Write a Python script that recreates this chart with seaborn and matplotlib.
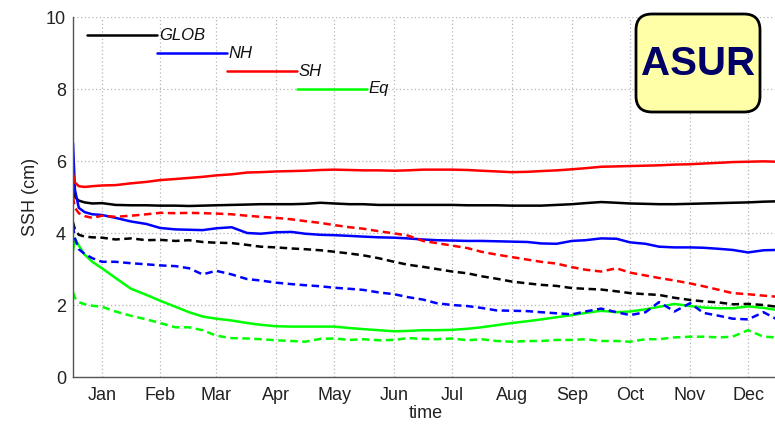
import matplotlib
matplotlib.use("Agg")
import matplotlib.pyplot as plt
from matplotlib.patches import FancyBboxPatch
from matplotlib.transforms import IdentityTransform
import seaborn as sns

# Day of year for each sample
DAYS = [0, 1, 3, 6, 10, 15, 22, 30, 38, 45, 53, 60, 67, 74, 82, 90, 97, 105, 113, 120,
        128, 135, 143, 150, 158, 166, 173, 181, 188, 196, 204, 211, 219, 227, 235, 242,
        250, 258, 265, 273, 281, 288, 296, 303, 311, 319, 326, 334, 341, 349, 357, 364]

# Solid curves (cm)
GLOB_SOLID = [5.25, 5.0, 4.9, 4.85, 4.82, 4.83, 4.78, 4.77, 4.77, 4.76, 4.76, 4.75, 4.76, 4.77,
              4.78, 4.79, 4.8, 4.8, 4.8, 4.81, 4.84, 4.82, 4.8, 4.8, 4.78, 4.78, 4.78, 4.78,
              4.78, 4.78, 4.77, 4.77, 4.77, 4.76, 4.76, 4.76, 4.78, 4.8, 4.83, 4.86, 4.84,
              4.82, 4.81, 4.8, 4.8, 4.81, 4.82, 4.83, 4.84, 4.85, 4.87, 4.88]
NH_SOLID = [6.5, 5.2, 4.7, 4.58, 4.52, 4.5, 4.42, 4.32, 4.25, 4.14, 4.1, 4.09, 4.08, 4.13,
            4.16, 4.0, 3.98, 4.02, 4.03, 3.98, 3.95, 3.94, 3.92, 3.9, 3.88, 3.87, 3.85, 3.82,
            3.8, 3.79, 3.78, 3.78, 3.77, 3.76, 3.75, 3.71, 3.7, 3.78, 3.8, 3.85, 3.84, 3.74,
            3.7, 3.62, 3.6, 3.6, 3.59, 3.56, 3.53, 3.46, 3.52, 3.53]
SH_SOLID = [5.65, 5.4, 5.3, 5.28, 5.3, 5.32, 5.33, 5.38, 5.42, 5.47, 5.5, 5.53, 5.56, 5.6,
            5.63, 5.68, 5.69, 5.71, 5.72, 5.73, 5.75, 5.76, 5.75, 5.74, 5.74, 5.73, 5.74,
            5.76, 5.76, 5.76, 5.75, 5.73, 5.71, 5.69, 5.7, 5.72, 5.74, 5.77, 5.8, 5.84, 5.85,
            5.86, 5.87, 5.88, 5.9, 5.91, 5.93, 5.95, 5.97, 5.98, 5.99, 5.98]
EQ_SOLID = [3.5, 3.85, 3.65, 3.4, 3.2, 3.02, 2.75, 2.45, 2.28, 2.12, 1.95, 1.8, 1.68, 1.62,
            1.57, 1.5, 1.45, 1.41, 1.4, 1.4, 1.4, 1.4, 1.36, 1.33, 1.3, 1.27, 1.28, 1.3, 1.3,
            1.31, 1.34, 1.38, 1.44, 1.5, 1.55, 1.6, 1.66, 1.72, 1.78, 1.84, 1.8, 1.82, 1.88,
            1.95, 2.03, 1.97, 1.93, 1.91, 1.91, 1.96, 1.92, 1.86]

# Dashed curves (cm)
GLOB_DASHED = [4.3, 4.1, 3.95, 3.9, 3.88, 3.87, 3.82, 3.85, 3.8, 3.81, 3.78, 3.8, 3.75, 3.73,
               3.72, 3.67, 3.62, 3.6, 3.57, 3.55, 3.52, 3.48, 3.43, 3.38, 3.3, 3.2, 3.12, 3.06,
               3.0, 2.93, 2.88, 2.8, 2.73, 2.65, 2.6, 2.56, 2.53, 2.47, 2.45, 2.43, 2.38, 2.33,
               2.3, 2.28, 2.2, 2.14, 2.1, 2.07, 2.02, 2.03, 2.0, 1.95]
NH_DASHED = [4.2, 3.85, 3.55, 3.42, 3.3, 3.2, 3.2, 3.16, 3.13, 3.1, 3.08, 3.02, 2.85, 2.95,
             2.85, 2.72, 2.68, 2.62, 2.58, 2.55, 2.52, 2.48, 2.45, 2.42, 2.35, 2.3, 2.22,
             2.15, 2.05, 2.0, 1.97, 1.92, 1.85, 1.84, 1.83, 1.8, 1.77, 1.74, 1.82, 1.9, 1.8,
             1.72, 1.8, 2.08, 1.82, 2.05, 1.78, 1.7, 1.62, 1.6, 1.8, 1.6]
SH_DASHED = [5.0, 4.7, 4.55, 4.47, 4.42, 4.48, 4.45, 4.48, 4.52, 4.56, 4.55, 4.56, 4.55, 4.54,
             4.52, 4.48, 4.45, 4.42, 4.38, 4.33, 4.28, 4.22, 4.16, 4.12, 4.05, 3.99, 3.93,
             3.78, 3.72, 3.65, 3.58, 3.48, 3.4, 3.33, 3.26, 3.2, 3.15, 3.05, 2.98, 2.93, 3.02,
             2.9, 2.82, 2.75, 2.68, 2.6, 2.52, 2.42, 2.33, 2.3, 2.26, 2.23]
EQ_DASHED = [2.35, 2.2, 2.08, 2.02, 1.98, 1.95, 1.82, 1.7, 1.6, 1.5, 1.38, 1.38, 1.3, 1.15,
             1.08, 1.07, 1.05, 1.02, 1.0, 0.98, 1.06, 1.07, 1.03, 1.05, 1.02, 1.03, 1.08, 1.06,
             1.05, 1.07, 1.02, 1.05, 1.0, 0.98, 1.0, 1.0, 1.03, 1.03, 1.05, 1.0, 1.0, 0.98,
             1.05, 1.05, 1.1, 1.12, 1.12, 1.1, 1.12, 1.3, 1.12, 1.1]

REGIONS = ["GLOB", "NH", "SH", "Eq"]
COLORS = {"GLOB": "#000000", "NH": "#0000FF", "SH": "#FF0000", "Eq": "#00FF00"}

MONTH_TICKS = [15, 45, 74, 105, 135, 166, 196, 227, 258, 288, 319, 349]
MONTH_LABELS = ["Jan", "Feb", "Mar", "Apr", "May", "Jun", "Jul", "Aug", "Sep", "Oct", "Nov", "Dec"]
Y_TICKS = [0, 2, 4, 6, 8, 10]

# Staggered key segments: (start day, end day, level) for each region
KEY_SEGMENTS = {"GLOB": (7.3, 43.5, 9.5), "NH": (43.5, 79.8, 9.0),
                "SH": (79.8, 116.0, 8.5), "Eq": (116.0, 152.0, 8.0)}

LW = 1.8

sns.set_theme(style="white")
plt.rcParams["font.family"] = ["Liberation Sans", "DejaVu Sans"]

fig = plt.figure(figsize=(7.75, 4.25), dpi=100)
ax = fig.add_axes([73 / 775, 1 - 377 / 425, 706 / 775, 360 / 425])

solid = {"GLOB": GLOB_SOLID, "NH": NH_SOLID, "SH": SH_SOLID, "Eq": EQ_SOLID}
dashed = {"GLOB": GLOB_DASHED, "NH": NH_DASHED, "SH": SH_DASHED, "Eq": EQ_DASHED}

for name in REGIONS:
    sns.lineplot(x=DAYS, y=solid[name], color=COLORS[name], lw=LW, ax=ax, legend=False)
for name in REGIONS:
    sns.lineplot(x=DAYS, y=dashed[name], color=COLORS[name], lw=LW, ax=ax, legend=False)
    ax.lines[-1].set_dashes([3.0, 1.8])

# Key segments with labels at their right end
for name in REGIONS:
    x0, x1, lvl = KEY_SEGMENTS[name]
    ax.plot([x0, x1], [lvl, lvl], color=COLORS[name], lw=LW)
    ax.text(x1 + 0.8, lvl, name, fontsize=12, fontstyle="italic", color="#111111",
            ha="left", va="center")

ax.set_xlim(0, 365)
ax.set_ylim(0, 10)
ax.set_xticks(MONTH_TICKS)
ax.set_xticklabels(MONTH_LABELS)
ax.set_yticks(Y_TICKS)
ax.grid(True, linestyle=(0, (1, 2)), color="#b5b5b5", lw=0.9)
ax.tick_params(direction="in", length=5, width=0.8, color="#444444",
               labelsize=13, labelcolor="#222222")
ax.tick_params(axis="x", pad=7)
ax.tick_params(axis="y", pad=5)
for side in ("top", "right"):
    ax.spines[side].set_visible(False)
for side in ("left", "bottom"):
    ax.spines[side].set_color("#555555")
    ax.spines[side].set_linewidth(1.0)
ax.set_xlabel("time", fontsize=13, color="#222222", labelpad=1)
ax.set_ylabel("SSH (cm)", fontsize=13, color="#222222", labelpad=5)

# Model name badge in the upper right corner
badge = FancyBboxPatch((636, 425 - 112), 124, 98,
                       boxstyle="round,pad=0,rounding_size=16",
                       transform=IdentityTransform(), facecolor="#FFFFA8",
                       edgecolor="#000000", lw=2.0, zorder=10)
fig.add_artist(badge)
fig.text(698 / 775, 1 - 64 / 425, "ASUR", fontsize=29, fontweight="bold",
         color="#000066", ha="center", va="center", zorder=11)

fig.savefig("out.png", dpi=100)
